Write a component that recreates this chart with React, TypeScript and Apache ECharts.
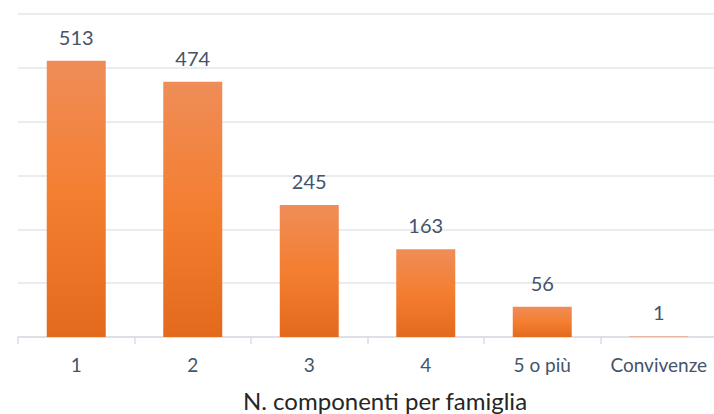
import React, { useEffect, useRef } from "react";
import * as echarts from "echarts";

const categories = ["1", "2", "3", "4", "5 o più", "Convivenze"];
const values = [513, 474, 245, 163, 56, 1];
const axisTitle = "N. componenti per famiglia";

export default function App() {
  const ref = useRef<HTMLDivElement>(null);
  useEffect(() => {
    document.body.style.margin = "0";
    const chart = echarts.init(ref.current!, null, { renderer: "svg" });
    chart.setOption({
      animation: false,
      grid: {
        left: 18,
        top: 14,
        width: 699,
        height: 323,
        containLabel: false,
        outerBoundsMode: "none",
      },
      graphic: [
        {
          type: "text",
          x: 385,
          y: 400,
          style: {
            text: axisTitle,
            fill: "#262626",
            fontSize: 24,
            fontFamily: "Lato",
            textAlign: "center",
            textVerticalAlign: "middle",
          },
        },
      ],
      xAxis: {
        type: "category",
        data: categories,
        axisLine: { lineStyle: { color: "#d9dde4", width: 1.5 } },
        axisTick: { show: true, interval: 0, length: 7, lineStyle: { color: "#d9dde4", width: 1.5 } },
        axisLabel: { interval: 0, color: "#44546a", fontSize: 19, fontFamily: "Lato", margin: 18 },
      },
      yAxis: {
        type: "value",
        min: 0,
        max: 600,
        interval: 100,
        axisLabel: { show: false },
        axisLine: { show: false },
        axisTick: { show: false },
        splitLine: { lineStyle: { color: "#e3e6eb", width: 1.5 } },
      },
      series: [
        {
          type: "bar",
          data: values,
          barWidth: 59,
          itemStyle: {
            color: new echarts.graphic.LinearGradient(0, 0, 0, 1, [
              { offset: 0, color: "#ef8d58" },
              { offset: 0.5, color: "#f47e30" },
              { offset: 1, color: "#e36a1c" },
            ]),
          },
          label: {
            show: true,
            position: "top",
            distance: 14,
            color: "#44546a",
            fontSize: 20,
            fontFamily: "Lato",
          },
        },
      ],
    });
    return () => chart.dispose();
  }, []);
  return <div ref={ref} style={{ width: 714, height: 414 }} />;
}
